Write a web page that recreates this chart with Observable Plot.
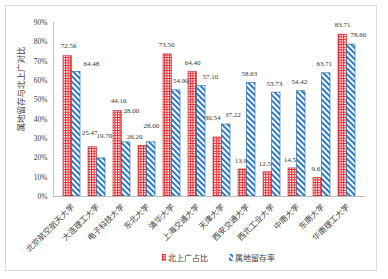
<!DOCTYPE html>
<html>
<head>
<meta charset="utf-8">
<script src="https://cdn.jsdelivr.net/npm/d3@7"></script>
<script src="https://cdn.jsdelivr.net/npm/@observablehq/plot@0.6"></script>
<style>
  html, body { margin: 0; padding: 0; background: #fff; }
  #wrap { position: relative; width: 388px; height: 279px; overflow: hidden; font-family: "Liberation Serif", "Noto Sans CJK SC", serif; }
  #border { position: absolute; left: 5px; top: 5px; width: 372px; height: 266px; border: 1px solid #d9d9d9; box-sizing: border-box; }
  #chart { position: absolute; left: 0; top: 0; }
  #ytitle { position: absolute; left: 20px; top: 89px; transform: translate(-50%, -50%) rotate(-90deg); white-space: nowrap; font-size: 8.5px; color: #404040; font-family: "Noto Sans CJK SC", serif; }
  .leg { position: absolute; top: 252px; font-size: 8px; color: #404040; font-family: "Noto Sans CJK SC", serif; white-space: nowrap; display: flex; align-items: center; }
  .leg svg { margin-right: 2px; }
</style>
</head>
<body>
<svg width="0" height="0" style="position:absolute">
  <defs>
    <pattern id="redPat" patternUnits="userSpaceOnUse" width="2.6" height="2.6">
      <rect width="2.6" height="2.6" fill="#fff"/>
      <rect x="0" y="0" width="1.1" height="2.6" fill="#e8262b"/>
      <rect x="0" y="0" width="2.6" height="0.9" fill="#e8262b"/>
    </pattern>
    <pattern id="bluePat" patternUnits="userSpaceOnUse" width="4" height="4" patternTransform="rotate(-45)">
      <rect width="4" height="4" fill="#fff"/>
      <rect x="0" y="0" width="2" height="4" fill="#2a7cc7"/>
    </pattern>
  </defs>
</svg>
<div id="wrap">
  <div id="border"></div>
  <div id="chart"></div>
  <div id="ytitle">属地留存与北上广对比</div>
  <div class="leg" style="left:162px"><svg width="4" height="7"><rect width="4" height="7" fill="url(#redPat)"/></svg>北上广占比</div>
  <div class="leg" style="left:229px"><svg width="4" height="7"><rect width="4" height="7" fill="url(#bluePat)"/></svg>属地留存率</div>
</div>
<script>
const categories = ["北京航空航天大学", "大连理工大学", "电子科技大学", "东北大学", "清华大学", "上海交通大学", "天津大学", "西安交通大学", "西北工业大学", "中南大学", "东南大学", "华南理工大学"];
const shareBSG = [72.56, 25.47, 44.16, 26.20, 73.50, 64.40, 30.54, 13.98, 12.54, 14.53, 9.61, 83.71];
const localRetention = [64.48, 19.70, 28.00, 28.00, 54.90, 57.10, 37.22, 58.63, 53.73, 54.42, 63.71, 78.60];
const seriesNames = ["北上广占比", "属地留存率"];
const yTicks = [0, 10, 20, 30, 40, 50, 60, 70, 80, 90];

// label nudges (layout only)
const redNudge = [[1,-10],[-3,-15],[1,-10],[-8,-9],[-1,-10],[0,-9.5],[-5,-20],[0,-9],[-1,-8.5],[-1,-8.6],[0,-9.5],[0,-10]];
const blueNudge = [[15,-8],[3,-23],[5,-32],[0,-17],[4.5,-10],[9,-9.6],[6.5,-10],[-2,-9.6],[-2,-9],[-2,-10],[-2,-10],[7,-10]];

const redRows = categories.map((c, i) => ({cat: c, series: seriesNames[0], value: shareBSG[i]}));
const blueRows = categories.map((c, i) => ({cat: c, series: seriesNames[1], value: localRetention[i]}));

const W = 388, H = 264, mL = 53, mR = 23;
const pInner = 0.33, pOuter = 0.3;
const step = (W - mL - mR) / (categories.length - pInner + 2 * pOuter);
const half = step * (1 - pInner) / 2;

const labelFont = {fontSize: 7, fill: "#333", fontFamily: "Liberation Serif, serif"};
const redLabels = redRows.map((r, i) => Plot.text([r], {x: "cat", y: "value", text: d => d.value.toFixed(2), dx: -half / 2 + redNudge[i][0], dy: redNudge[i][1], ...labelFont}));
const blueLabels = blueRows.map((r, i) => Plot.text([r], {x: "cat", y: "value", text: d => d.value.toFixed(2), dx: half / 2 + blueNudge[i][0], dy: blueNudge[i][1], ...labelFont}));

const chart = Plot.plot({
  width: W, height: H,
  marginLeft: mL, marginRight: mR, marginTop: 22, marginBottom: H - 196,
  style: {background: "transparent", color: "#404040", overflow: "visible"},
  x: {domain: categories, paddingInner: pInner, paddingOuter: pOuter, axis: null},
  y: {domain: [0, 90]},
  marks: [
    Plot.barY(redRows, {x: "cat", y: "value", fill: "url(#redPat)", stroke: "#c0272d", strokeWidth: 0.6, insetRight: half}),
    ...redLabels,
    Plot.barY(blueRows, {x: "cat", y: "value", fill: "url(#bluePat)", stroke: "#1f5f9c", strokeWidth: 0.6, insetLeft: half}),
    ...blueLabels,
    Plot.ruleY([0], {stroke: "#bfbfbf"}),
    Plot.frame({anchor: "left", stroke: "#bfbfbf"}),
    Plot.axisY({ticks: yTicks, tickFormat: d => d + "%", tickSize: 0, tickPadding: 6, label: null, fontSize: 7.5, fontFamily: "Liberation Serif, serif", fill: "#404040"}),
    Plot.text(categories, {x: d => d, y: () => 0, text: d => d, rotate: -45, textAnchor: "end", lineAnchor: "middle", dx: 1, dy: 9, fontSize: 8, fontFamily: "Noto Sans CJK SC, serif", fill: "#404040"})
  ]
});
document.getElementById("chart").appendChild(chart);
</script>
</body>
</html>
